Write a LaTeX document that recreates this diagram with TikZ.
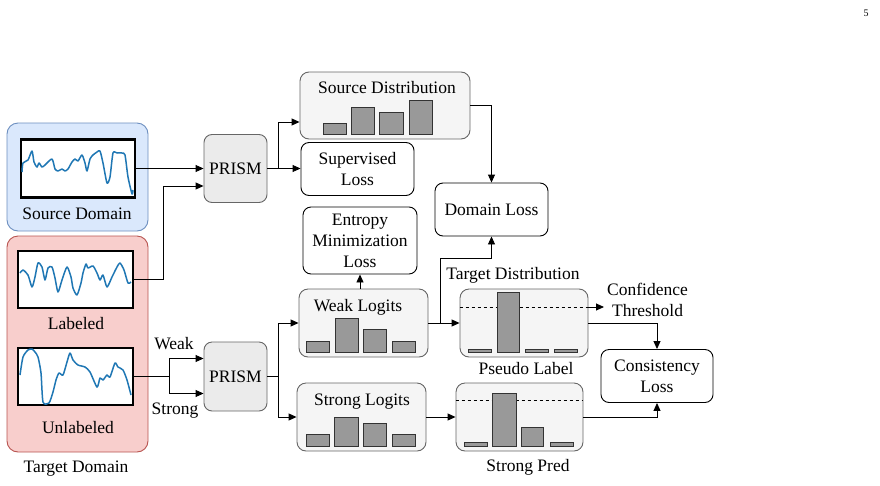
\documentclass[tikz,border=0pt]{standalone}
\usepackage{fontspec}
\setmainfont{Liberation Serif}
\newfontfamily\diagfont{Liberation Serif}
\usetikzlibrary{arrows.meta,calc}
\definecolor{wavec}{HTML}{1F77B4}
\definecolor{bluefill}{HTML}{DAE8FC}
\definecolor{bluedraw}{HTML}{6C8EBF}
\definecolor{redfill}{HTML}{F8CECC}
\definecolor{reddraw}{HTML}{B85450}
\definecolor{grayfill}{HTML}{F5F5F5}
\definecolor{prismfill}{HTML}{EBEBEB}
\definecolor{graydraw}{HTML}{666666}
\definecolor{barfill}{HTML}{999999}
\tikzset{
  container/.style={rounded corners=11pt, line width=0.9pt},
  plotbox/.style={draw=black, line width=2.4pt, fill=white},
  prismbox/.style={draw=graydraw, fill=prismfill, rounded corners=8pt, line width=0.9pt},
  distbox/.style={draw=graydraw, fill=grayfill, rounded corners=9pt, line width=0.9pt},
  lossbox/.style={draw=black, fill=white, rounded corners=8pt, line width=0.9pt, align=center},
  barst/.style={draw=black!80, fill=barfill, line width=0.8pt},
  wave/.style={draw=wavec, line width=1.5pt, line join=round},
  arr/.style={-{Triangle[length=8pt,width=7pt]}, line width=0.9pt},
  conn/.style={line width=0.9pt},
  lbl/.style={inner sep=0pt, align=center},
}
\begin{document}
\begin{tikzpicture}[x=1pt,y=-1pt, font=\diagfont\fontsize{17.5}{21}\selectfont]
\useasboundingbox (0,0) rectangle (880,485);
% page number
\node[lbl, font=\diagfont\fontsize{10}{12}\selectfont] (pagenum) at (866,13) {5};

% containers
\node[container, draw=bluedraw, fill=bluefill, minimum width=141pt, minimum height=108pt] (srcdom) at (77.5,177) {};
\node[container, draw=reddraw, fill=redfill, minimum width=141pt, minimum height=216pt] (tgtdom) at (77.5,344) {};

% plot boxes
\node[plotbox, minimum width=114pt, minimum height=58pt] (srcplot) at (78,168.5) {};
\node[plotbox, minimum width=115pt, minimum height=57pt] (labplot) at (75.5,279.5) {};
\node[plotbox, minimum width=115pt, minimum height=57pt] (unlplot) at (75.5,376.5) {};

\begin{scope}
\clip (srcplot.south west) rectangle (srcplot.north east);
\draw[wave] plot[smooth, tension=0.4] coordinates {(22,172) (23,163) (28,160) (32,151) (34,162) (37,167) (39,163) (42,167) (45,165) (52,159) (55,169) (58,171) (62,169) (65,171) (68,169) (72,162) (75,159) (78,161) (82,155) (85,163) (87,171) (90,159) (93,155) (97,152) (100,151) (103,163) (107,183) (110,177) (113,153) (117,153) (122,153) (125,155) (128,177) (132,194) (133,190)};
\end{scope}
\begin{scope}
\clip (labplot.south west) rectangle (labplot.north east);
\draw[wave] plot[smooth, tension=0.4] coordinates {(20,273) (23,270) (28,275) (32,287) (35,277) (38,263) (42,267) (45,280) (48,268) (52,267) (55,278) (58,292) (62,280) (67,267) (71,277) (73,288) (77,295) (81,283) (83,273) (86,264) (88,268) (93,266) (97,273) (100,280) (103,275) (107,287) (112,277) (117,267) (120,263) (124,270) (128,283) (131,282)};
\end{scope}
\begin{scope}
\clip (unlplot.south west) rectangle (unlplot.north east);
\draw[wave] plot[smooth, tension=0.4] coordinates {(20,375) (23,357) (28,350) (32,349) (35,352) (38,357) (41,373) (43,402) (49,403) (53,392) (56,380) (59,373) (63,375) (67,362) (70,353) (73,360) (78,365) (85,367) (90,372) (97,387) (100,378) (103,380) (107,375) (110,377) (115,363) (118,367) (123,370) (127,380) (131,395)};
\end{scope}

\node[lbl] (srclbl) at (77,214) {Source Domain};
\node[lbl] (lablbl) at (76,324) {Labeled};
\node[lbl] (unllbl) at (78,428) {Unlabeled};
\node[lbl] (tgtlbl) at (76,469) {Target Domain};

% PRISM
\node[prismbox, minimum width=63pt, minimum height=68pt] (prism1) at (235.5,168.5) {PRISM};
\node[prismbox, minimum width=63pt, minimum height=69pt] (prism2) at (235.5,376.5) {PRISM};

% distribution boxes
\node[distbox, minimum width=170pt, minimum height=67pt] (srcdist) at (385,105.5) {};
\node[lbl] (srcdisttitle) at (387,88) {Source Distribution};
\draw[barst] (323,123) rectangle (346,134);
\draw[barst] (351,107) rectangle (374,134);
\draw[barst] (379,112) rectangle (403,134);
\draw[barst] (409,100) rectangle (432,134);

\node[distbox, minimum width=129pt, minimum height=68pt] (weaklog) at (363.5,323) {};
\node[lbl] (weaktitle) at (358,307) {Weak Logits};
\draw[barst] (306,341) rectangle (329,352);
\draw[barst] (335,318) rectangle (358,352);
\draw[barst] (363,329) rectangle (386,352);
\draw[barst] (392,341) rectangle (415,352);

\node[distbox, minimum width=129pt, minimum height=68pt] (stronglog) at (361.5,417) {};
\node[lbl] (strongtitle) at (362,402) {Strong Logits};
\draw[barst] (306,434) rectangle (329,446);
\draw[barst] (334,417) rectangle (358,446);
\draw[barst] (363,423) rectangle (386,446);
\draw[barst] (392,434) rectangle (415,446);

\node[distbox, minimum width=128pt, minimum height=68pt] (pseudo) at (524,323) {};
\draw[dashed, line width=0.8pt] (pseudo.west |- 0,307) -- (pseudo.east |- 0,307);
\draw[barst] (468,349) rectangle (491,352);
\draw[barst] (497,292) rectangle (519,352);
\draw[barst] (525,349) rectangle (548,352);
\draw[barst] (554,349) rectangle (577,352);
\node[lbl] (pseudolbl) at (526,369) {Pseudo Label};

\node[distbox, minimum width=127pt, minimum height=68pt] (strongpred) at (519.5,417) {};
\draw[dashed, line width=0.8pt] (strongpred.west |- 0,400) -- (strongpred.east |- 0,400);
\draw[barst] (464,442) rectangle (487,446);
\draw[barst] (492,393) rectangle (516,446);
\draw[barst] (521,427) rectangle (543,446);
\draw[barst] (550,442) rectangle (573,446);
\node[lbl] (strongpredlbl) at (528,467) {Strong Pred};

% loss boxes
\node[lossbox, minimum width=113pt, minimum height=53pt] (suploss) at (357.5,169) {Supervised\\Loss};
\node[lossbox, minimum width=113pt, minimum height=53pt] (domloss) at (491.5,209.5) {Domain Loss};
\node[lossbox, minimum width=114pt, minimum height=67pt] (entropy) at (360,240.5) {Entropy\\Minimization\\Loss};
\node[lossbox, minimum width=112pt, minimum height=53pt] (cons) at (657,376) {Consistency\\Loss};

% labels
\node[lbl] (weaklbl) at (174,344) {Weak};
\node[lbl] (stronglbl) at (175,411) {Strong};
\node[lbl] (tdlbl) at (513,275) {Target Distribution};
\node[lbl, anchor=west] (conflbl) at (607,300) {Confidence\\Threshold};

% coordinates
\coordinate (j1) at (163,186);
\coordinate (j2) at (169,376.5);
\coordinate (b1) at (278,168.5);
\coordinate (b2) at (278,376.5);
\coordinate (t1) at (440,323);
\coordinate (tb) at (440,258);
\coordinate (ct) at (604,307);

% connectors
\draw[arr] (srcplot.east) -- (srcplot.east -| prism1.west);
\draw[arr] (labplot.east) -| (j1) -- (j1 -| prism1.west);
\draw[conn] (unlplot.east) -- (j2);
\draw[arr] (j2) |- ($(prism2.west)+(0,-18)$);
\draw[arr] (j2) |- ($(prism2.west)+(0,17)$);
\draw[conn] (prism1.east) -- (b1);
\draw[arr] (b1) |- (srcdist.west |- 0,122);
\draw[arr] (b1) -- (b1 -| suploss.west);
\draw[arr] (srcdist.east) -| (domloss.north);
\draw[conn] (prism2.east) -- (b2);
\draw[arr] (b2) |- (weaklog.west);
\draw[arr] (b2) |- (stronglog.west);
\draw[arr] (weaklog.north -| entropy.south) -- (entropy.south);
\draw[arr] (weaklog.east) -- (pseudo.west);
\draw[arr] (t1) -- (tb) -| (domloss.south);
\draw[arr] (stronglog.east) -- (strongpred.west);
\draw[arr] (pseudo.east |- ct) -- (ct);
\draw[arr] (pseudo.east) -| (cons.north);
\draw[arr] (strongpred.east) -| (cons.south);
\end{tikzpicture}
\end{document}
